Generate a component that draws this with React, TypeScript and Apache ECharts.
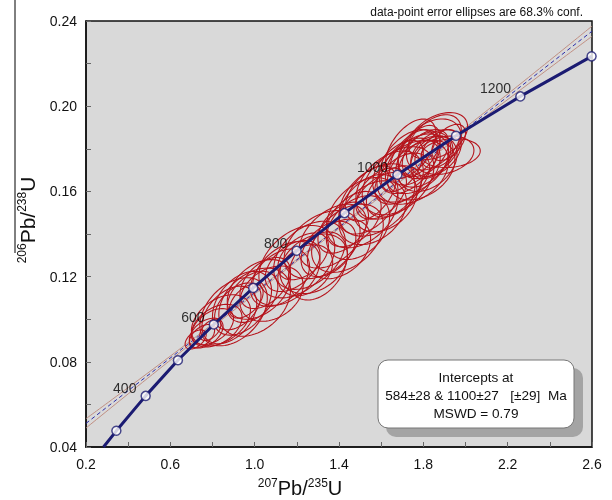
import React, { useEffect, useRef } from "react";
import * as echarts from "echarts";

const FONT = "'Liberation Sans', Arial, sans-serif";

// Concordia reference points (age in Ma, 207Pb/235U, 206Pb/238U)
const concAges = [300, 400, 500, 600, 700, 800, 900, 1000, 1100, 1200, 1300];
const concX = [0.344, 0.483, 0.636, 0.806, 0.993, 1.199, 1.426, 1.677, 1.955, 2.26, 2.598];
const concY = [0.0476, 0.064, 0.0807, 0.0975, 0.1147, 0.1321, 0.1498, 0.1678, 0.1861, 0.2046, 0.2234];
const concStart = [0.283, 0.04];
const labeledAges = [400, 600, 800, 1000, 1200];

// Discordia line and its error envelope
const discordia = [
  [0.2, 0.0511],
  [2.6, 0.2352],
];
const envUpper = [
  [0.2, 0.0533],
  [0.78, 0.0962],
  [1.95, 0.1861],
  [2.6, 0.2376],
];
const envLower = [
  [0.2, 0.0489],
  [0.78, 0.0948],
  [1.95, 0.1843],
  [2.6, 0.2328],
];

// Error ellipses: [centre x, centre y, half-width x, half-height y, correlation]
const ellipses = [
  [0.72, 0.0905, 0.05, 0.0045, 0.5],
  [0.75, 0.092, 0.06, 0.0055, 0.5],
  [0.77, 0.0935, 0.08, 0.007, 0.45],
  [0.8, 0.0965, 0.1, 0.0085, 0.45],
  [0.82, 0.097, 0.12, 0.01, 0.4],
  [0.84, 0.0995, 0.14, 0.012, 0.4],
  [0.79, 0.095, 0.05, 0.005, 0.5],
  [0.88, 0.102, 0.13, 0.0135, 0.4],
  [0.9, 0.1035, 0.16, 0.016, 0.4],
  [0.92, 0.106, 0.11, 0.011, 0.45],
  [0.94, 0.1075, 0.14, 0.015, 0.4],
  [0.96, 0.1085, 0.08, 0.008, 0.5],
  [0.99, 0.1105, 0.12, 0.012, 0.4],
  [1.02, 0.114, 0.15, 0.014, 0.4],
  [1.05, 0.117, 0.12, 0.012, 0.45],
  [1.08, 0.112, 0.15, 0.013, 0.3],
  [1.12, 0.1195, 0.14, 0.0135, 0.4],
  [1.0, 0.108, 0.17, 0.016, 0.35],
  [1.15, 0.1215, 0.16, 0.015, 0.4],
  [1.18, 0.125, 0.13, 0.012, 0.45],
  [1.2, 0.127, 0.18, 0.017, 0.4],
  [1.23, 0.1295, 0.12, 0.011, 0.45],
  [1.26, 0.13, 0.17, 0.016, 0.4],
  [1.28, 0.126, 0.16, 0.014, 0.3],
  [1.3, 0.125, 0.14, 0.016, 0.35],
  [1.32, 0.135, 0.18, 0.016, 0.4],
  [1.35, 0.133, 0.13, 0.013, 0.4],
  [1.37, 0.139, 0.16, 0.015, 0.45],
  [1.4, 0.133, 0.15, 0.014, 0.35],
  [1.42, 0.143, 0.12, 0.012, 0.45],
  [1.44, 0.138, 0.17, 0.016, 0.4],
  [1.24, 0.123, 0.13, 0.012, 0.3],
  [1.47, 0.147, 0.13, 0.013, 0.45],
  [1.49, 0.143, 0.15, 0.015, 0.35],
  [1.51, 0.15, 0.17, 0.0165, 0.4],
  [1.54, 0.154, 0.14, 0.014, 0.45],
  [1.56, 0.15, 0.16, 0.015, 0.35],
  [1.58, 0.156, 0.18, 0.017, 0.4],
  [1.6, 0.159, 0.12, 0.012, 0.45],
  [1.62, 0.155, 0.15, 0.014, 0.35],
  [1.64, 0.163, 0.16, 0.016, 0.4],
  [1.66, 0.16, 0.13, 0.012, 0.4],
  [1.68, 0.165, 0.17, 0.016, 0.4],
  [1.55, 0.159, 0.12, 0.013, 0.5],
  [1.7, 0.166, 0.13, 0.012, 0.45],
  [1.72, 0.17, 0.16, 0.015, 0.4],
  [1.73, 0.174, 0.14, 0.015, 0.45],
  [1.75, 0.169, 0.17, 0.015, 0.35],
  [1.76, 0.176, 0.12, 0.013, 0.45],
  [1.77, 0.173, 0.15, 0.014, 0.4],
  [1.78, 0.179, 0.1, 0.012, 0.5],
  [1.79, 0.17, 0.16, 0.014, 0.35],
  [1.8, 0.175, 0.13, 0.013, 0.4],
  [1.81, 0.178, 0.11, 0.011, 0.45],
  [1.82, 0.173, 0.14, 0.013, 0.35],
  [1.83, 0.18, 0.15, 0.014, 0.4],
  [1.84, 0.176, 0.1, 0.01, 0.4],
  [1.85, 0.183, 0.13, 0.013, 0.45],
  [1.86, 0.178, 0.12, 0.011, 0.4],
  [1.87, 0.186, 0.14, 0.011, 0.4],
  [1.88, 0.18, 0.09, 0.009, 0.45],
  [1.9, 0.177, 0.14, 0.009, 0.25],
  [1.93, 0.178, 0.14, 0.0068, 0.15],
  [1.92, 0.183, 0.08, 0.0085, 0.5],
  [1.74, 0.18, 0.12, 0.014, 0.5],
  [1.7, 0.172, 0.1, 0.012, 0.5],
];

const interceptLines = ["Intercepts at", "584±28 & 1100±27   [±29]  Ma", "MSWD = 0.79"];
const noteText = "data-point error ellipses are 68.3% conf.";

const NAVY = "#1b1b72";

export default function App() {
  const ref = useRef<HTMLDivElement>(null);
  useEffect(() => {
    const chart = echarts.init(ref.current!, null, { renderer: "svg" });
    const concLine = [concStart, ...concX.map((x, i) => [x, concY[i]])];
    const markers = concX.map((x, i) => {
      const age = concAges[i];
      const show = labeledAges.includes(age);
      return {
        value: [x, concY[i]],
        label: {
          show,
          formatter: String(age),
          position: "left",
          distance: 4,
          offset: [0, -8],
          fontSize: 14,
          color: "#000",
          fontFamily: FONT,
        },
      };
    });
    const option: any = {
      animation: false,
      textStyle: { fontFamily: FONT },
      grid: {
        left: 86,
        right: 20,
        top: 21,
        bottom: 53,
        show: true,
        backgroundColor: "#d9d9d9",
        borderColor: "#111",
        borderWidth: 1.5,
      },
      xAxis: {
        type: "value",
        min: 0.2,
        max: 2.6,
        interval: 0.4,
        axisLine: { show: true, onZero: false, lineStyle: { color: "#111", width: 1.5 } },
        axisTick: { show: true, inside: true, length: 5, lineStyle: { color: "#666" } },
        minorTick: { show: true, splitNumber: 2, length: 5, lineStyle: { color: "#666" } },
        splitLine: { show: false },
        axisLabel: {
          formatter: (v: number) => v.toFixed(1),
          color: "#111",
          fontSize: 14,
          margin: 10,
          fontFamily: FONT,
        },
      },
      yAxis: {
        type: "value",
        min: 0.04,
        max: 0.24,
        interval: 0.04,
        axisLine: { show: true, onZero: false, lineStyle: { color: "#111", width: 1.5 } },
        axisTick: { show: true, inside: true, length: 5, lineStyle: { color: "#666" } },
        minorTick: { show: true, splitNumber: 2, length: 5, lineStyle: { color: "#666" } },
        splitLine: { show: false },
        axisLabel: {
          formatter: (v: number) => v.toFixed(2),
          color: "#111",
          fontSize: 14,
          margin: 9,
          fontFamily: FONT,
        },
      },
      series: [
        {
          type: "line",
          data: envUpper,
          smooth: true,
          symbol: "none",
          silent: true,
          lineStyle: { color: "#c08f82", width: 1 },
          z: 1,
        },
        {
          type: "line",
          data: envLower,
          smooth: true,
          symbol: "none",
          silent: true,
          lineStyle: { color: "#c08f82", width: 1 },
          z: 1,
        },
        {
          type: "line",
          data: discordia,
          symbol: "none",
          silent: true,
          lineStyle: { color: "#2b2ba8", width: 1, type: [4, 3] },
          z: 2,
        },
        {
          type: "custom",
          data: ellipses,
          encode: { x: 0, y: 1 },
          silent: true,
          z: 3,
          renderItem: (params: any, api: any) => {
            const cx = api.value(0);
            const cy = api.value(1);
            const ax = api.value(2);
            const ay = api.value(3);
            const r = api.value(4);
            const s = Math.sqrt(1 - r * r);
            const pts: number[][] = [];
            const n = 72;
            for (let i = 0; i < n; i++) {
              const t = (i / n) * Math.PI * 2;
              pts.push(api.coord([cx + ax * Math.cos(t), cy + ay * (r * Math.cos(t) + s * Math.sin(t))]));
            }
            return {
              type: "polygon",
              shape: { points: pts },
              style: { fill: "none", stroke: "#b5141c", lineWidth: 1.1 },
            };
          },
        },
        {
          type: "line",
          data: concLine,
          symbol: "none",
          silent: true,
          lineStyle: { color: NAVY, width: 3 },
          z: 4,
        },
        {
          type: "scatter",
          data: markers,
          symbol: "circle",
          symbolSize: 9,
          silent: true,
          itemStyle: { color: "#fff", borderColor: NAVY, borderWidth: 1.5 },
          z: 5,
        },
      ],
      graphic: [
        {
          type: "text",
          z: 100,
          x: 583,
          y: 12,
          style: {
            text: noteText,
            font: `12px ${FONT}`,
            fill: "#111",
            align: "right",
            verticalAlign: "middle",
            textAlign: "right",
            textVerticalAlign: "middle",
          },
        },
        {
          type: "line",
          z: 100,
          shape: { x1: 15, y1: 0, x2: 15, y2: 253 },
          style: { stroke: "#000", lineWidth: 1 },
        },
        {
          type: "text",
          z: 100,
          x: 27,
          y: 220,
          rotation: Math.PI / 2,
          style: {
            text: "{s|206}{b|Pb/}{s|238}{b|U}",
            fill: "#111",
            align: "center",
            verticalAlign: "middle",
            textAlign: "center",
            textVerticalAlign: "middle",
            rich: {
              s: { fontSize: 12, lineHeight: 12, verticalAlign: "top", fontFamily: FONT, fill: "#111" },
              b: { fontSize: 21, lineHeight: 23, fontFamily: FONT, fill: "#111" },
            },
          },
        },
        {
          type: "text",
          z: 100,
          x: 300,
          y: 488,
          style: {
            text: "{s|207}{b|Pb/}{s|235}{b|U}",
            fill: "#111",
            align: "center",
            verticalAlign: "middle",
            textAlign: "center",
            textVerticalAlign: "middle",
            rich: {
              s: { fontSize: 12, lineHeight: 12, verticalAlign: "top", fontFamily: FONT, fill: "#111" },
              b: { fontSize: 20, lineHeight: 22, fontFamily: FONT, fill: "#111" },
            },
          },
        },
        {
          type: "rect",
          z: 100,
          shape: { x: 386, y: 368, width: 197, height: 69, r: 10 },
          style: { fill: "#a4a4a4" },
        },
        {
          type: "rect",
          z: 101,
          shape: { x: 378, y: 360, width: 196, height: 68, r: 10 },
          style: { fill: "#fff", stroke: "#777", lineWidth: 1 },
        },
        ...interceptLines.map((t, i) => ({
          type: "text",
          z: 102,
          x: 476,
          y: 377 + i * 18,
          style: {
            text: t,
            font: `13.6px ${FONT}`,
            fill: "#111",
            align: "center",
            verticalAlign: "middle",
            textAlign: "center",
            textVerticalAlign: "middle",
          },
        })),
      ],
    };
    chart.setOption(option);
    return () => chart.dispose();
  }, []);
  return <div ref={ref} style={{ position: "fixed", left: 0, top: 0, width: 612, height: 500 }} />;
}
